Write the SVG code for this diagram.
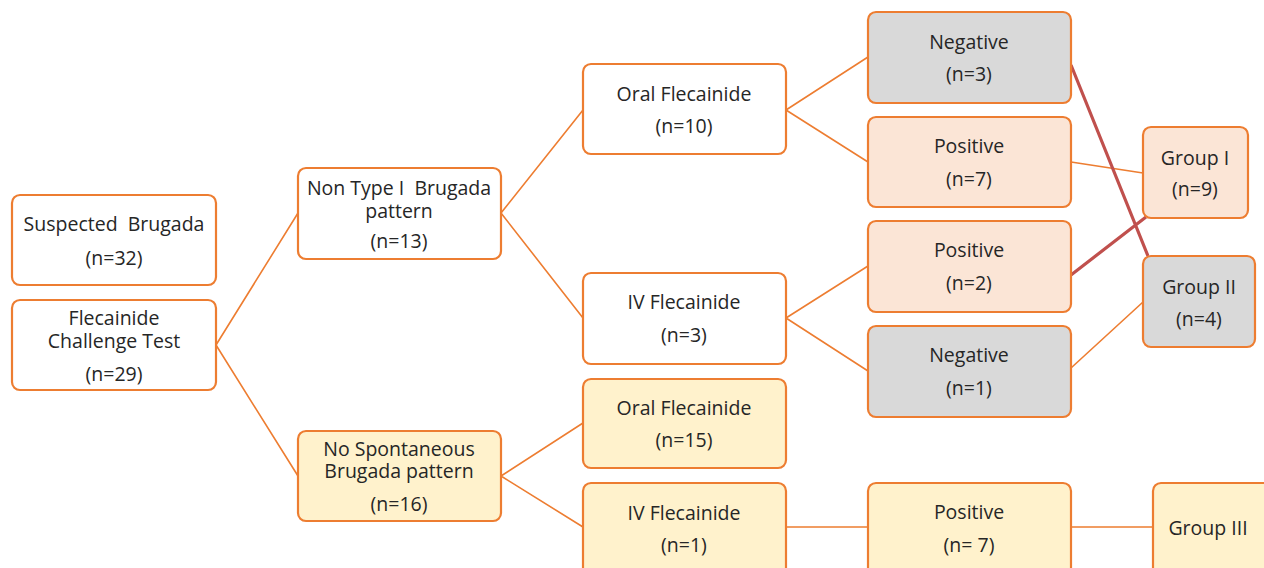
<svg xmlns="http://www.w3.org/2000/svg" width="1264" height="568" viewBox="0 0 1264 568">
<style>
.b{stroke:#ED7D31;stroke-width:2.2;fill:#fff}
.g{fill:#D9D9D9}
.p{fill:#FBE5D6}
.y{fill:#FFF2CC}
text{font-family:"Open Sans","DejaVu Sans",sans-serif;font-size:19.5px;fill:#262626;text-anchor:middle;dominant-baseline:central;white-space:pre}
.c{stroke:#ED7D31;stroke-width:1.6;fill:none}
.r{stroke:#C0504D;stroke-width:3.2;fill:none}
</style>
<rect width="1264" height="568" fill="#fff"/>
<g id="connectors">
<path class="c" d="M216,345 L298,213 M216,345 L298,476"/>
<path class="c" d="M501,213 L583,110 M501,213 L583,318"/>
<path class="c" d="M501,476 L583,423 M501,476 L583,527"/>
<path class="c" d="M786,110 L868,57 M786,110 L868,162"/>
<path class="c" d="M786,318 L868,266 M786,318 L868,371"/>
<path class="c" d="M786,527 L868,527 M1071,527 L1152,527"/>
<path class="c" d="M1071,162 L1143,173 M1071,368 L1143,302"/>
<path class="r" d="M1071,65 L1148,256 M1071,275 L1146,217"/>
</g>
<g id="suspected"><rect class="b" x="12" y="195" width="204" height="90" rx="8"/><text x="114" y="223" xml:space="preserve">Suspected  Brugada</text><text x="114" y="257">(n=32)</text></g>
<g id="challenge"><rect class="b" x="12" y="300" width="204" height="90" rx="8"/><text x="114" y="317">Flecainide</text><text x="114" y="340">Challenge Test</text><text x="114" y="373">(n=29)</text></g>
<g id="nontype1"><rect class="b" x="298" y="168" width="203" height="91" rx="8"/><text x="399" y="187" xml:space="preserve">Non Type I  Brugada</text><text x="399" y="210">pattern</text><text x="399" y="240">(n=13)</text></g>
<g id="nospont"><rect class="b y" x="298" y="431" width="203" height="90" rx="8"/><text x="399" y="448">No Spontaneous</text><text x="399" y="470">Brugada pattern</text><text x="399" y="503">(n=16)</text></g>
<g id="oral10"><rect class="b" x="583" y="64" width="203" height="90" rx="8"/><text x="684" y="93">Oral Flecainide</text><text x="684" y="125">(n=10)</text></g>
<g id="iv3"><rect class="b" x="583" y="273" width="203" height="91" rx="8"/><text x="684" y="301">IV Flecainide</text><text x="684" y="334">(n=3)</text></g>
<g id="oral15"><rect class="b y" x="583" y="379" width="203" height="89" rx="8"/><text x="684" y="407">Oral Flecainide</text><text x="684" y="439">(n=15)</text></g>
<g id="iv1"><rect class="b y" x="583" y="483" width="203" height="100" rx="8"/><text x="684" y="512">IV Flecainide</text><text x="684" y="544">(n=1)</text></g>
<g id="neg3"><rect class="b g" x="868" y="12" width="203" height="91" rx="8"/><text x="969" y="41">Negative</text><text x="969" y="73">(n=3)</text></g>
<g id="pos7"><rect class="b p" x="868" y="117" width="203" height="90" rx="8"/><text x="969" y="145">Positive</text><text x="969" y="178">(n=7)</text></g>
<g id="pos2"><rect class="b p" x="868" y="221" width="203" height="91" rx="8"/><text x="969" y="249">Positive</text><text x="969" y="282">(n=2)</text></g>
<g id="neg1"><rect class="b g" x="868" y="326" width="203" height="91" rx="8"/><text x="969" y="354">Negative</text><text x="969" y="387">(n=1)</text></g>
<g id="pos7b"><rect class="b y" x="868" y="483" width="203" height="100" rx="8"/><text x="969" y="511">Positive</text><text x="969" y="544" xml:space="preserve">(n= 7)</text></g>
<g id="group1"><rect class="b p" x="1143" y="127" width="105" height="91" rx="8"/><text x="1195" y="157">Group I</text><text x="1195" y="188">(n=9)</text></g>
<g id="group2"><rect class="b g" x="1143" y="256" width="112" height="91" rx="8"/><text x="1199" y="286">Group II</text><text x="1199" y="318">(n=4)</text></g>
<g id="group3"><rect class="b y" x="1153" y="483" width="120" height="100" rx="8"/><text x="1208" y="527">Group III</text></g>
</svg>
